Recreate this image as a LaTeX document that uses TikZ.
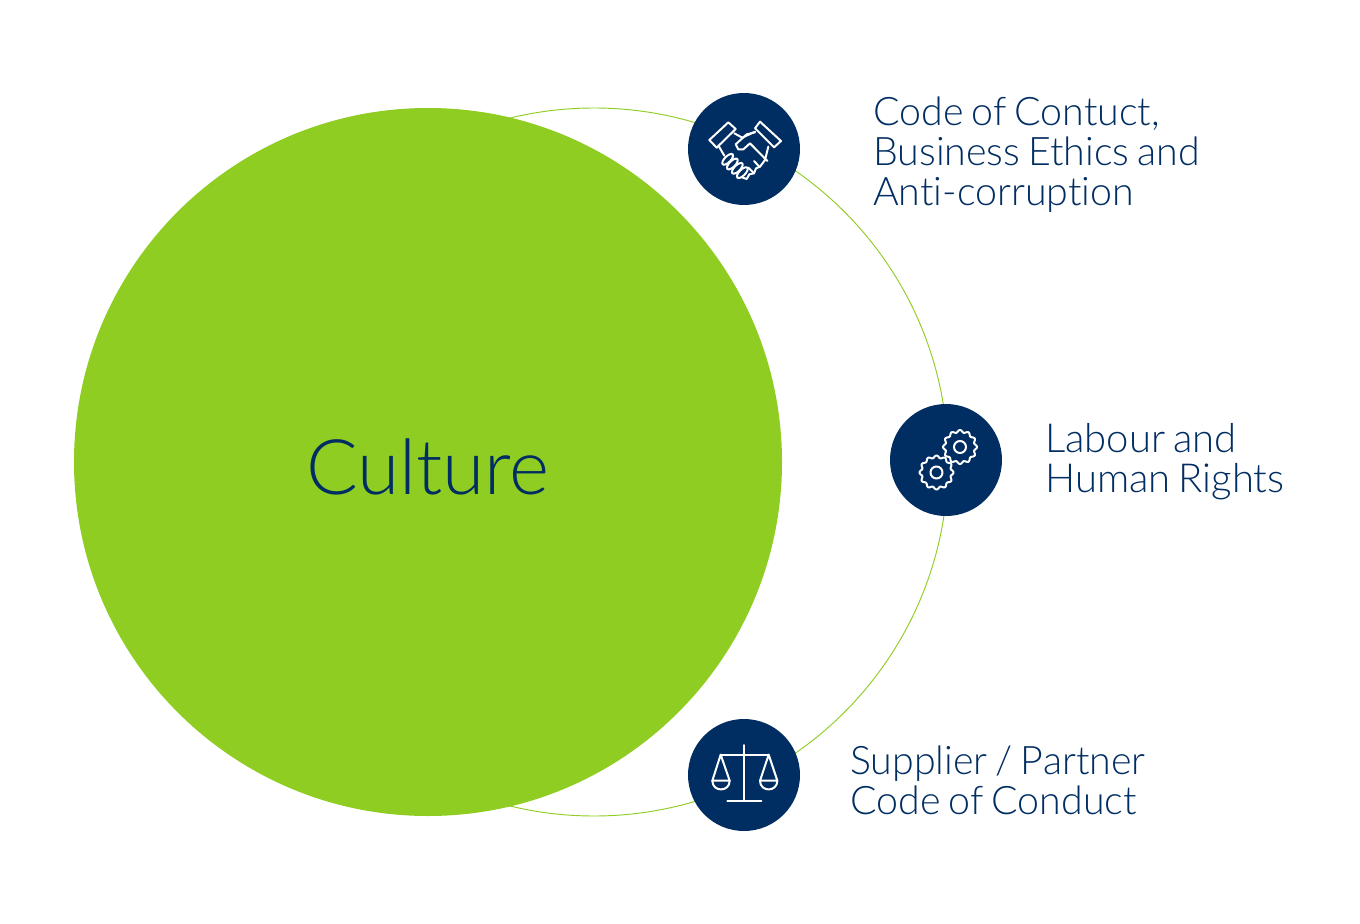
\documentclass[tikz,border=0pt]{standalone}
\usepackage{fontspec}
\setmainfont[Ligatures={NoCommon,NoRequired,NoContextual},WordSpace=0.75]{Lato Light}
\definecolor{navy}{HTML}{002D62}
\definecolor{leaf}{HTML}{90CD23}
\tikzset{
  big/.style={circle,fill=leaf,draw=none,minimum size=531pt,inner sep=0pt},
  badge/.style={circle,fill=navy,draw=none,minimum size=84pt,inner sep=0pt},
  orbit/.style={draw=leaf,line width=0.7pt},
  icon/.style={draw=white,line width=1.5pt,line join=round,line cap=round},
  lab/.style={text=navy,font=\fontsize{29.5pt}{30pt}\selectfont,align=left,anchor=west,inner sep=0pt},
  labwide/.style={lab,font=\fontsize{30pt}{30pt}\selectfont},
  title/.style={text=navy,font=\fontsize{57.5pt}{70pt}\selectfont,inner sep=0pt}
}
\begin{document}
\begin{tikzpicture}[x=0.75pt,y=-0.75pt]
\useasboundingbox (0,0) rectangle (1360,924);
\fill[white] (0,0) rectangle (1360,924);
\coordinate (orbitc) at (594,462);
\draw[orbit] (orbitc) circle[radius=265.5pt];
\node[big] (culture) at (428,462) {};
\node[title] (culturetext) at (428,467) {Culture};
\node[badge] (b1) at (744,149) {};
\node[badge] (b2) at (946,460) {};
\node[badge] (b3) at (744,775) {};
\node[lab] (t1) at (873,155) {Code of Contuct,\\Business Ethics and\\Anti-corruption};
\node[labwide] (t2) at (1045,462) {Labour and\\Human Rights};
\node[lab] (t3) at (850,780) {Supplier / Partner\\Code of Conduct};
% handshake
\begin{scope}[shift={(680,85)},x=0.25pt,y=-0.25pt]
\draw[icon] (145,112)--(167,132)--(110,188)--(88,165)--cycle;
\draw[icon] (240,110)--(303,168)--(282,187)--(225,130)--cycle;
\draw[icon] (163,145)--(187,158)--(225,140);
\draw[icon] (117,185)--(133,212);
\draw[icon] (265,185)--(255,225)--(240,245)--(228,250)--(222,265)--(208,268)--(200,282)--(188,278);
\draw[icon] (225,142)--(200,148)--(167,178)--(175,193)--(190,193)--(210,175)--(262,228);
\draw[icon] (238,245)--(222,228);
\draw[icon] (222,265)--(205,248);
\foreach \a/\b in {143/223,157/237,172/250,187/263}{
  \draw[icon,rotate around={45:(\a,\b)}] (\a,\b) ellipse[x radius=21,y radius=9];
}
\end{scope}
% gears
\draw[icon] plot[domain=0:360,samples=120,smooth] ({960+(15.8+1.2*cos(12*\x))*cos(\x)},{447+(15.8+1.2*cos(12*\x))*sin(\x)});
\draw[icon] (960,447) circle[radius=4.5pt];
\draw[icon] plot[domain=0:360,samples=120,smooth] ({936.5+(15.8+1.2*cos(12*\x))*cos(\x)},{472.5+(15.8+1.2*cos(12*\x))*sin(\x)});
\draw[icon] (936.5,472.5) circle[radius=4.5pt];
% scales
\begin{scope}[shift={(680,710)},x=0.25pt,y=-0.25pt]
\draw[icon] (192,105)--(192,272);
\draw[icon] (142,272)--(244,272);
\draw[icon] (122,134)--(266,134);
\draw[icon] (122,134)--(97,212)--(149,212)--cycle;
\draw[icon] (266,134)--(240,212)--(292,212)--cycle;
\draw[icon] (97,212) .. controls (97,247) and (149,247) .. (149,212);
\draw[icon] (240,212) .. controls (240,247) and (292,247) .. (292,212);
\end{scope}
\end{tikzpicture}
\end{document}
